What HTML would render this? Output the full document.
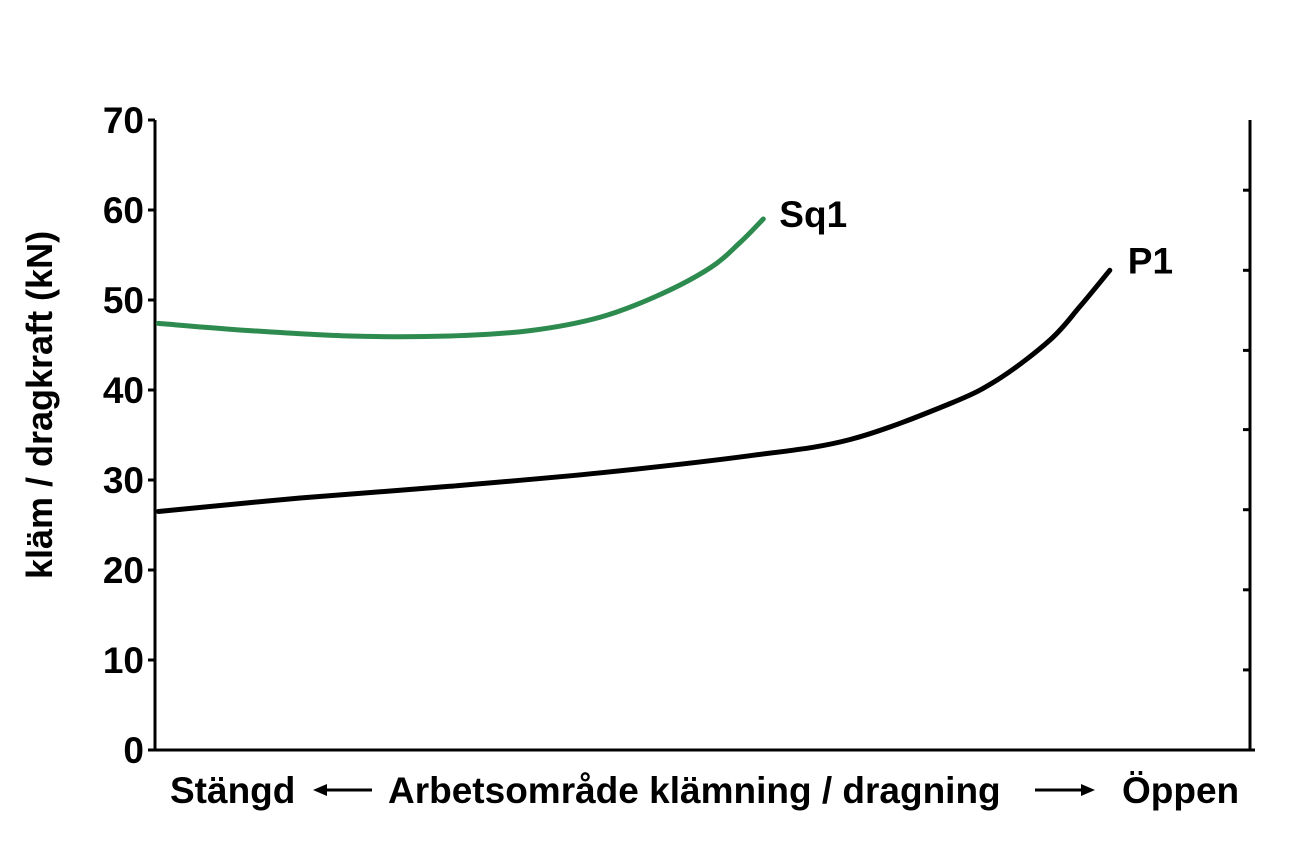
<!DOCTYPE html>
<html><head><meta charset="utf-8"><style>
html,body{margin:0;padding:0;background:#fff;}
svg{display:block;font-family:"Liberation Sans",Arial,sans-serif;font-weight:bold;}
</style></head><body>
<svg width="1289" height="859" viewBox="0 0 1289 859">
<g id="axes"></g>
<g id="series"></g>
<text x="52" y="405" font-size="36" text-anchor="middle" transform="rotate(-90 52 405)">kläm / dragkraft (kN)</text>
<text x="170" y="803" font-size="37">Stängd</text>
<text x="388" y="803" font-size="37">Arbetsområde klämning / dragning</text>
<text x="1122" y="803" font-size="37">Öppen</text>
<g><line x1="325" y1="790" x2="372" y2="790" stroke="#000" stroke-width="3"/><polygon points="313,790 327,784 327,796" fill="#000"/></g>
<g><line x1="1035" y1="790" x2="1083" y2="790" stroke="#000" stroke-width="3"/><polygon points="1095,790 1081,784 1081,796" fill="#000"/></g>
</svg>
<script>
const yTicks=[0,10,20,30,40,50,60,70];
const rightTicks=[8.9,17.8,26.7,35.6,44.4,53.3,62.2];
const sq1X=[0.3,8.6,17.7,26.8,34.1,40.5,45.9,50.5,53.2,55.3];
const sq1Y=[47.4,46.6,46.0,46.0,46.6,48.1,50.6,53.6,56.4,59.0];
const p1X=[0.3,13.2,26.8,40.5,54.1,63.2,72.3,76.8,81.4,84.1,86.8];
const p1Y=[26.5,28.0,29.3,30.8,32.7,34.5,38.5,41.3,45.6,49.3,53.3];
const NS="http://www.w3.org/2000/svg";
const X0=155,X1=1255,Y0=750,Y1=120;
const sx=v=>X0+(v/100)*(X1-X0);
const sy=v=>Y0-(v/70)*(Y0-Y1);
function mk(t,a,p){const e=document.createElementNS(NS,t);for(const k in a)e.setAttribute(k,a[k]);p.appendChild(e);return e;}
const ax=document.getElementById('axes');
let l=mk('line',{x1:X0,y1:Y1,x2:X0,y2:Y0+1,stroke:'#000','stroke-width':3},ax);


l=mk('line',{x1:X0-2,y1:Y0,x2:X1,y2:Y0,stroke:'#000','stroke-width':3},ax);


l=mk('line',{x1:1250,y1:Y1,x2:1250,y2:Y0,stroke:'#000','stroke-width':3},ax);


yTicks.forEach(v=>{
  const t=mk('line',{x1:X0-7,y1:sy(v),x2:X0,y2:sy(v),stroke:'#000','stroke-width':3},ax);
  
  
  const tx=mk('text',{x:144,y:sy(v)+13,'font-size':37,'text-anchor':'end'},ax);
  tx.textContent=v;
  
  
});
rightTicks.forEach(v=>{
  const t=mk('line',{x1:1243,y1:sy(v),x2:1250,y2:sy(v),stroke:'#000','stroke-width':3},ax);
  
  
});
function path(xs,ys){
  const p=xs.map((x,i)=>[sx(x),sy(ys[i])]);
  let d='M'+p[0][0]+','+p[0][1];
  for(let i=0;i<p.length-1;i++){
    const a=p[i-1]||p[i],b=p[i],c=p[i+1],e=p[i+2]||c;
    d+=' C'+(b[0]+(c[0]-a[0])/6)+','+(b[1]+(c[1]-a[1])/6)+' '+(c[0]-(e[0]-b[0])/6)+','+(c[1]-(e[1]-b[1])/6)+' '+c[0]+','+c[1];
  }
  return d;
}
const sg=document.getElementById('series');
let s=mk('path',{d:path(sq1X,sq1Y),fill:'none',stroke:'#2e8b4f','stroke-width':5,'stroke-linecap':'round'},sg);


s=mk('path',{d:path(p1X,p1Y),fill:'none',stroke:'#000','stroke-width':5,'stroke-linecap':'round'},sg);


let t=mk('text',{x:sx(sq1X[sq1X.length-1])+16,y:sy(sq1Y[sq1Y.length-1])+8,'font-size':37},sg);
t.textContent='Sq1';


t=mk('text',{x:sx(p1X[p1X.length-1])+18,y:sy(p1Y[p1Y.length-1])+3,'font-size':37},sg);
t.textContent='P1';


</script>
</body></html>
